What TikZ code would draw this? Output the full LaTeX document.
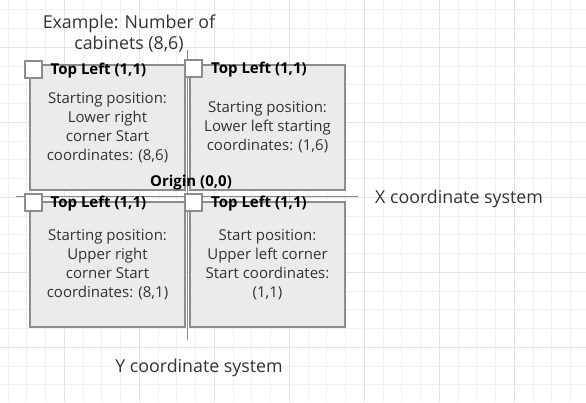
\documentclass[tikz,border=0pt]{standalone}
\usepackage{fontspec}
\setmainfont{Open Sans}
\usetikzlibrary{positioning}

\definecolor{boxfill}{HTML}{EBEBEB}
\definecolor{boxline}{HTML}{8C8C8C}
\definecolor{gridminor}{HTML}{F0F0F0}
\definecolor{gridmajor}{HTML}{E3E3E3}
\definecolor{txt}{HTML}{333333}

\tikzset{
  cabinet/.style={draw=boxline, line width=2pt, fill=boxfill, minimum width=155pt,
    minimum height=125pt, align=center, text=txt, font=\fontsize{15}{19}\selectfont},
  tickbox/.style={draw=boxline, line width=2pt, fill=white, minimum size=17pt, inner sep=0pt},
  cornertitle/.style={font=\fontsize{15}{17}\selectfont\bfseries, inner sep=0pt, text=black, yshift=-1.5pt},
  axislabel/.style={font=\fontsize{17.8}{21}\selectfont, text=txt, align=center, inner sep=0pt, yshift=-2.5pt},
  axis/.style={draw=boxline, line width=1pt}
}

\begin{document}
\begin{tikzpicture}[x=1pt, y=-1pt]
\useasboundingbox (0,0) rectangle (586,402);
\fill[white] (0,0) rectangle (586,402);
\begin{scope}
  \clip (0,0) rectangle (586,402);
  \foreach \k in {-19,...,11} {
    \pgfmathsetmacro{\gx}{364.3+18.75*\k}
    \pgfmathtruncatemacro{\m}{mod(\k+40,4)}
    \ifnum\m=0 \draw[gridmajor, line width=1pt] (\gx,0) -- (\gx,402);
    \else \draw[gridminor, line width=1pt] (\gx,0) -- (\gx,402); \fi
  }
  \foreach \k in {-2,...,18} {
    \pgfmathsetmacro{\gy}{47.3+18.75*\k}
    \pgfmathtruncatemacro{\m}{mod(\k+40,4)}
    \ifnum\m=0 \draw[gridmajor, line width=1pt] (0,\gy) -- (586,\gy);
    \else \draw[gridminor, line width=1pt] (0,\gy) -- (586,\gy); \fi
  }
\end{scope}

% axes
\coordinate (xstart) at (16,196);
\coordinate (xend) at (358,196);
\coordinate (ystart) at (187.5,50);
\coordinate (yend) at (187.5,340);
\draw[axis] (xstart) -- (xend);
\draw[axis] (ystart) -- (yend);

% the four cabinets
\node[cabinet] (lowright) at (107.5,127.5) {Starting position:\\Lower right\\corner Start\\coordinates: (8,6)};
\node[cabinet] (lowleft) at (267.5,127.5) {Starting position:\\Lower left starting\\coordinates: (1,6)};
\node[cabinet] (upright) at (107.5,264.5) {Starting position:\\Upper right\\corner Start\\coordinates: (8,1)};
\node[cabinet] (upleft) at (267.5,264.5) {Start position:\\Upper left corner\\Start coordinates:\\(1,1)};

\node[tickbox] (tick1) at (33,69) {};
\node[tickbox] (tick2) at (193.5,68.5) {};
\node[tickbox] (tick3) at (33,202.5) {};
\node[tickbox] (tick4) at (193.5,202.5) {};

\node[cornertitle, right=8pt of tick1] (title1) {Top Left (1,1)};
\node[cornertitle, right=8pt of tick2] (title2) {Top Left (1,1)};
\node[cornertitle, right=8pt of tick3] (title3) {Top Left (1,1)};
\node[cornertitle, right=8pt of tick4] (title4) {Top Left (1,1)};

\node[cornertitle] (origin) at (191,181) {Origin (0,0)};

\node[axislabel] (example) at (129,31) {Example: Number of\\cabinets (8,6)};
\node[axislabel, anchor=west] (xlabel) at (375,196) {X coordinate system};
\node[axislabel] (ylabel) at (199,365) {Y coordinate system};
\end{tikzpicture}
\end{document}
